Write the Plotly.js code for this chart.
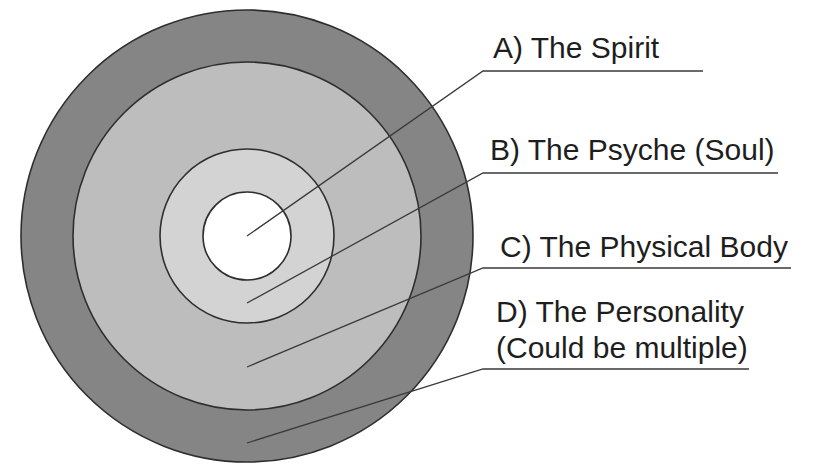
<!DOCTYPE html>
<html>
<head>
<meta charset="utf-8">
<script src="https://cdn.plot.ly/plotly-3.0.1.min.js"></script>
<style>html,body{margin:0;padding:0;background:#fff;}#chart{width:821px;height:472px;}</style>
</head>
<body>
<div id="chart"></div>
<script>
// ---- data ----
const labels = ["A) The Spirit", "B) The Psyche (Soul)", "C) The Physical Body", "D) The Personality<br>(Could be multiple)"];
const ringRadii = [44, 87, 174, 226];          // radius of each layer, inner to outer
const pointerDepth = [0, 67, 131, 207];         // how far below centre each pointer ends

// ---- layout / style ----
const centre = {x: 247, y: 236};
const ringFills = ["#ffffff", "#d3d3d3", "#bdbdbd", "#858585"];
const bendX = 483;
const bendY = [71, 173, 268, 369];
const lineEndX = [703, 778, 791, 749];
const textX = [491, 488, 498, 494];
const baseY = [58, 160, 257, 322];
const lineGap = 36;
const fontSize = 30;

const shapes = [];
for (let i = ringRadii.length - 1; i >= 0; i--) {
  const r = ringRadii[i];
  shapes.push({
    type: 'circle', xref: 'x', yref: 'y', layer: 'below',
    x0: centre.x - r, x1: centre.x + r, y0: centre.y - r, y1: centre.y + r,
    fillcolor: ringFills[i],
    line: {color: '#2e2e2e', width: 1.6}
  });
}

const traces = labels.map((lab, i) => ({
  type: 'scatter', mode: 'lines', hoverinfo: 'skip', showlegend: false,
  x: [centre.x, bendX, lineEndX[i]],
  y: [centre.y + pointerDepth[i], bendY[i], bendY[i]],
  line: {color: '#3a3a3a', width: 1.3}
}));

const annotations = [];
labels.forEach((lab, i) => {
  lab.split('<br>').forEach((ln, j) => {
    annotations.push({
      text: ln, x: textX[i], y: baseY[i] + j * lineGap - fontSize * 0.36, xref: 'x', yref: 'y',
      xanchor: 'left', yanchor: 'middle', align: 'left', showarrow: false,
      font: {family: '"Liberation Sans", Arial, Helvetica, sans-serif', size: fontSize, color: '#1e1e1e'}
    });
  });
});

const layout = {
  width: 821, height: 472,
  margin: {l: 0, r: 0, t: 0, b: 0},
  paper_bgcolor: '#ffffff', plot_bgcolor: '#ffffff',
  xaxis: {range: [0, 821], visible: false, fixedrange: true},
  yaxis: {range: [472, 0], visible: false, fixedrange: true},
  shapes: shapes,
  annotations: annotations,
  showlegend: false
};

Plotly.newPlot('chart', traces, layout, {staticPlot: true, displayModeBar: false});
</script>
</body>
</html>
